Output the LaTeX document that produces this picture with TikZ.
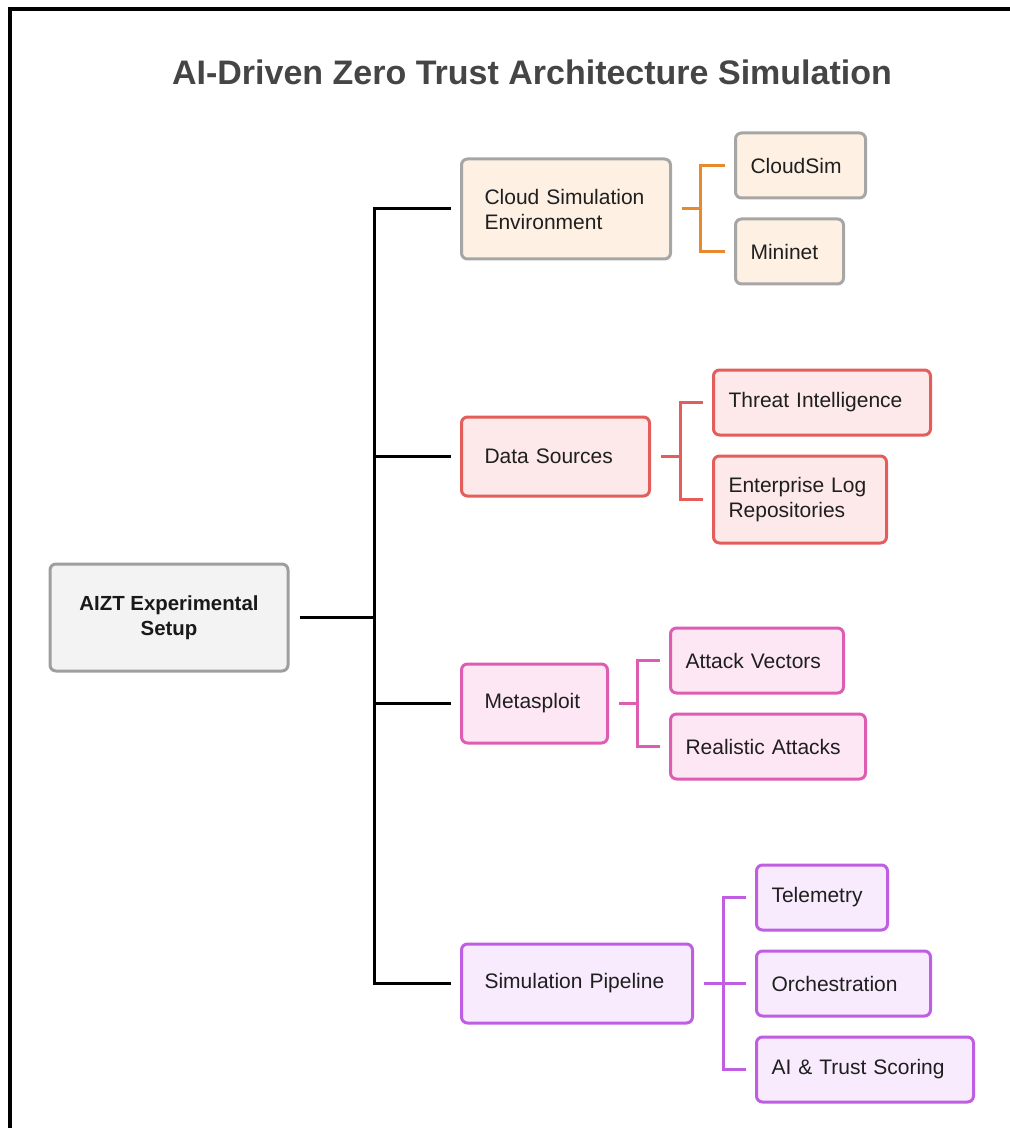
\documentclass[tikz,border=0pt]{standalone}
\usepackage{fontspec}
\setmainfont{Liberation Sans}
\usepackage{tikz}
\usetikzlibrary{calc}
\definecolor{titlegray}{HTML}{454545}
\definecolor{rootfill}{HTML}{F3F3F3}
\definecolor{rootline}{HTML}{9E9E9E}
\definecolor{cloudfill}{HTML}{FEF0E3}
\definecolor{cloudline}{HTML}{A6A6A6}
\definecolor{cloudlink}{HTML}{E8892E}
\definecolor{datafill}{HTML}{FDE9E9}
\definecolor{dataline}{HTML}{E35D5B}
\definecolor{metafill}{HTML}{FDE7F4}
\definecolor{metaline}{HTML}{DE5DB2}
\definecolor{pipefill}{HTML}{F8EBFD}
\definecolor{pipeedge}{HTML}{BF5EE3}
\hyphenpenalty=10000
\exhyphenpenalty=10000

\begin{document}
\begin{tikzpicture}[x=0.5pt,y=-0.5pt,
  box/.style={line width=1.5pt, rounded corners=3pt, anchor=west, align=left,
    text=black!88, font=\fontsize{10.5}{12.5}\selectfont},
  root/.style={draw=rootline, fill=rootfill, line width=1.5pt, rounded corners=3pt,
    minimum width=119pt, minimum height=53.5pt, align=center, text=black!90,
    font=\fontsize{10.2}{12.5}\selectfont\bfseries},
  group/.style={box, inner xsep=11.5pt, minimum height=39.5pt},
  leaf/.style={box, inner xsep=7.5pt, minimum height=32.5pt},
  cloud/.style={draw=cloudline, fill=cloudfill},
  data/.style={draw=dataline, fill=datafill},
  meta/.style={draw=metaline, fill=metafill},
  pipe/.style={draw=pipeedge, fill=pipefill},
  link/.style={line width=1.5pt}]
\useasboundingbox (0,0) rectangle (1010,1128);
\draw[line width=2pt] (10,1135) -- (10,9.5) -- (1015,9.5);

\node[text=titlegray, font=\fontsize{17}{20}\selectfont\bfseries] (title) at (532,72)
  {AI-Driven Zero Trust Architecture Simulation};

\node[root] (aizt) at (169,617.5) {AIZT Experimental\\Setup};

\node[group, cloud, text width=81.5pt, minimum height=50pt] (cloudenv) at (460,209) {Cloud~Simulation\\Environment};
\node[group, data, text width=71pt] (datasrc) at (460,456.5) {Data~Sources};
\node[group, meta, text width=50pt] (msf) at (460,703.5) {Metasploit};
\node[group, pipe, text width=92.5pt] (simpipe) at (460,983.5) {Simulation~Pipeline};

\node[leaf, cloud, text width=50pt] (cloudsim) at (734,165.5) {CloudSim};
\node[leaf, cloud, text width=39pt] (mininet) at (734,251.5) {Mininet};
\node[leaf, data, text width=93.5pt] (threat) at (712,402.5) {Threat~Intelligence};
\node[leaf, data, text width=71.5pt, minimum height=43.5pt] (entlog) at (712,499.5) {Enterprise~Log\\Repositories};
\node[leaf, meta, text width=71.5pt] (attack) at (669,660.5) {Attack~Vectors};
\node[leaf, meta, text width=82.5pt] (realistic) at (669,746.5) {Realistic~Attacks};
\node[leaf, pipe, text width=50.5pt] (telemetry) at (755,897.5) {Telemetry};
\node[leaf, pipe, text width=72pt] (orch) at (755,983.5) {Orchestration};
\node[leaf, pipe, text width=93.5pt] (scoring) at (755,1069.5) {AI~\&~Trust~Scoring};

\coordinate (spine) at (374,617.5);
\coordinate (cfork) at (700,209);
\coordinate (dfork) at (680,456.5);
\coordinate (mfork) at (637,703.5);
\coordinate (pfork) at (723,983.5);

% main tree
\draw[link, shorten <=5pt] (aizt.east) -- (spine);
\draw[link, shorten <=4.5pt, shorten >=4.5pt] (cloudenv.west) -| (spine) |- (simpipe.west);
\draw[link, shorten >=4.5pt] (spine |- datasrc.west) -- (datasrc.west);
\draw[link, shorten >=4.5pt] (spine |- msf.west) -- (msf.west);

% sub trees
\draw[link, cloudlink, shorten <=5pt] (cloudenv.east) -- (cfork);
\draw[link, cloudlink, shorten <=4.75pt, shorten >=4.75pt] (cloudsim.west) -| (cfork) |- (mininet.west);
\draw[link, dataline, shorten <=5pt] (datasrc.east) -- (dfork);
\draw[link, dataline, shorten <=4.75pt, shorten >=4.75pt] (threat.west) -| (dfork) |- (entlog.west);
\draw[link, metaline, shorten <=5pt] (msf.east) -- (mfork);
\draw[link, metaline, shorten <=4.75pt, shorten >=4.75pt] (attack.west) -| (mfork) |- (realistic.west);
\draw[link, pipeedge, shorten <=5pt] (simpipe.east) -- (pfork);
\draw[link, pipeedge, shorten >=4.75pt] (pfork) -- (orch.west);
\draw[link, pipeedge, shorten <=4.75pt, shorten >=4.75pt] (telemetry.west) -| (pfork) |- (scoring.west);
\end{tikzpicture}
\end{document}
